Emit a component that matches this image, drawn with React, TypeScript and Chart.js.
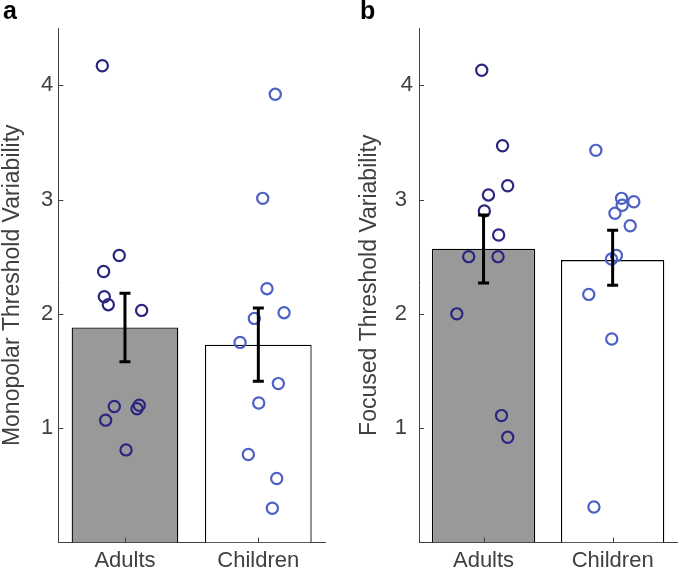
import React, { useEffect, useRef } from 'react';
import { Chart, registerables } from 'chart.js';
Chart.register(...registerables);

const categories = ['Adults', 'Children'];
const yTickValues = [1, 2, 3, 4];

// Panel a: Monopolar
const monoMeans = [1.88, 1.73];
const monoErrLow = [1.58, 1.41];
const monoErrHigh = [2.18, 2.05];
const monoAdults = [4.17, 2.51, 2.37, 2.15, 2.08, 2.03, 1.19, 1.2, 1.17, 1.07, 0.81];
const monoAdultsX = [0.83, 0.957, 0.84, 0.845, 0.875, 1.125, 0.92, 1.107, 1.09, 0.855, 1.008];
const monoChildren = [3.92, 3.01, 2.22, 2.01, 1.96, 1.75, 1.39, 1.22, 0.77, 0.56, 0.3];
const monoChildrenX = [2.127, 2.033, 2.065, 2.193, 1.97, 1.863, 2.15, 2.003, 1.925, 2.138, 2.105];

// Panel b: Focused
const focMeans = [2.57, 2.47];
const focErrLow = [2.27, 2.25];
const focErrHigh = [2.865, 2.73];
const focAdults = [4.13, 3.47, 3.12, 3.04, 2.9, 2.69, 2.5, 2.5, 2.0, 1.11, 0.92];
const focAdultsX = [0.986, 1.147, 1.187, 1.038, 1.006, 1.117, 0.885, 1.112, 0.793, 1.139, 1.187];
const focChildren = [3.43, 3.01, 2.98, 2.95, 2.88, 2.77, 2.51, 2.48, 2.17, 1.78, 0.31];
const focChildrenX = [1.87, 2.069, 2.164, 2.074, 2.018, 2.136, 2.029, 1.991, 1.815, 1.993, 1.855];

const FONT = 'Liberation Sans, Arial, sans-serif';
const TEXT = '#404040';
const AXIS = '#404040';
const ADULT_COLOR = '#2b2680';
const CHILD_COLOR = '#4d60c4';

type PanelProps = {
  width: number;
  height: number;
  axisWidth: number;
  padRight: number;
  titlePad: number;
  tickPad: number;
  padTicks: boolean;
  title: string;
  means: number[];
  errLow: number[];
  errHigh: number[];
  adults: number[];
  adultsX: number[];
  children: number[];
  childrenX: number[];
};

function Panel(p: PanelProps) {
  const ref = useRef<HTMLCanvasElement>(null);
  useEffect(() => {
    if (!ref.current) return;
    const overlay = {
      id: 'overlay',
      afterDatasetsDraw(chart: any) {
        const ctx = chart.ctx;
        const xs = chart.scales.x;
        const ys = chart.scales.y;
        const area = chart.chartArea;
        ctx.save();
        // inner tick marks
        ctx.strokeStyle = AXIS;
        ctx.lineWidth = 1;
        ctx.beginPath();
        yTickValues.forEach((v) => {
          const y = Math.round(ys.getPixelForValue(v)) + 0.5;
          ctx.moveTo(area.left, y);
          ctx.lineTo(area.left + 5, y);
        });
        categories.forEach((_, i) => {
          const x = Math.round(xs.getPixelForValue(i + 1)) + 0.5;
          ctx.moveTo(x, area.bottom);
          ctx.lineTo(x, area.bottom - 5);
        });
        ctx.stroke();
        // error bars
        ctx.strokeStyle = '#000';
        ctx.lineWidth = 3;
        ctx.lineCap = 'butt';
        categories.forEach((_, i) => {
          const x = xs.getPixelForValue(i + 1);
          const yl = ys.getPixelForValue(p.errLow[i]);
          const yh = ys.getPixelForValue(p.errHigh[i]);
          ctx.beginPath();
          ctx.moveTo(x, yl);
          ctx.lineTo(x, yh);
          ctx.moveTo(x - 5.5, yl);
          ctx.lineTo(x + 5.5, yl);
          ctx.moveTo(x - 5.5, yh);
          ctx.lineTo(x + 5.5, yh);
          ctx.stroke();
        });
        ctx.restore();
      },
    };
    const tickFont = { family: FONT, size: 22 };
    const chart = new Chart(ref.current, {
      type: 'bar',
      data: {
        datasets: [
          {
            type: 'scatter',
            data: p.adults.map((v, i) => ({ x: p.adultsX[i], y: v })),
            borderColor: ADULT_COLOR,
            backgroundColor: 'rgba(0,0,0,0)',
            pointRadius: 5.6,
            pointBorderWidth: 2.2,
            borderWidth: 2.2,
            showLine: false,
            order: 1,
          },
          {
            type: 'scatter',
            data: p.children.map((v, i) => ({ x: p.childrenX[i], y: v })),
            borderColor: CHILD_COLOR,
            backgroundColor: 'rgba(0,0,0,0)',
            pointRadius: 5.6,
            pointBorderWidth: 2.2,
            borderWidth: 2.2,
            showLine: false,
            order: 1,
          },
          {
            type: 'bar',
            data: p.means.map((v, i) => ({ x: i + 1, y: v })),
            backgroundColor: ['#999999', '#ffffff'],
            borderColor: '#000000',
            borderWidth: 1.3,
            categoryPercentage: 0.8,
            barPercentage: 1,
            order: 2,
          },
        ],
      } as any,
      options: {
        animation: false,
        responsive: false,
        maintainAspectRatio: false,
        events: [],
        layout: { padding: { top: 28, right: p.padRight, left: 0, bottom: 0 } },
        plugins: { legend: { display: false }, tooltip: { enabled: false } },
        scales: {
          x: {
            type: 'linear',
            min: 0.5,
            max: 2.5,
            offset: false,
            afterBuildTicks: (s: any) => {
              s.ticks = categories.map((_, i) => ({ value: i + 1 }));
            },
            afterFit: (s: any) => {
              s.height = 25.5;
            },
            ticks: {
              callback: (v: any) => categories[Math.round(v) - 1] ?? '',
              font: tickFont,
              color: TEXT,
              padding: 5,
              maxRotation: 0,
              autoSkip: false,
            },
            grid: { display: false, drawTicks: false, offset: false },
            border: { display: true, color: AXIS, width: 1 },
          },
          y: {
            type: 'linear',
            min: 0,
            max: 4.5,
            afterBuildTicks: (s: any) => {
              s.ticks = yTickValues.map((v) => ({ value: v }));
            },
            afterFit: (s: any) => {
              s.width = p.axisWidth;
            },
            ticks: {
              callback: (v: any) => (p.padTicks && v !== 4 ? String(v) + ' ' : String(v)),
              font: tickFont,
              color: TEXT,
              padding: p.tickPad,
            },
            title: {
              display: true,
              text: p.title,
              font: { family: FONT, size: 23, lineHeight: 1 },
              color: TEXT,
              padding: { top: p.titlePad, bottom: 0 },
            },
            grid: { display: false, drawTicks: false },
            border: { display: true, color: AXIS, width: 1 },
          },
        },
      } as any,
      plugins: [overlay],
    });
    return () => chart.destroy();
  }, []);
  return <canvas ref={ref} width={p.width} height={p.height} style={{ display: 'block', width: p.width, height: p.height }} />;
}

const letterStyle: React.CSSProperties = {
  position: 'absolute',
  top: -2,
  font: `bold 25px ${FONT}`,
  lineHeight: '25px',
  color: '#000',
};

export default function App() {
  return (
    <div style={{ position: 'fixed', left: 0, top: 0, width: 685, height: 568, background: '#fff', overflow: 'hidden' }}>
      <div style={{ position: 'absolute', left: 0, top: 0 }}>
        <Panel
          width={342}
          height={568}
          axisWidth={58.3}
          padRight={17}
          titlePad={1.5}
          tickPad={5}
          padTicks={false}
          title="Monopolar Threshold Variability"
          means={monoMeans}
          errLow={monoErrLow}
          errHigh={monoErrHigh}
          adults={monoAdults}
          adultsX={monoAdultsX}
          children={monoChildren}
          childrenX={monoChildrenX}
        />
      </div>
      <div style={{ position: 'absolute', left: 342, top: 0 }}>
        <Panel
          width={343}
          height={568}
          axisWidth={77}
          padRight={0.5}
          titlePad={16}
          tickPad={6}
          padTicks={true}
          title="Focused Threshold Variability"
          means={focMeans}
          errLow={focErrLow}
          errHigh={focErrHigh}
          adults={focAdults}
          adultsX={focAdultsX}
          children={focChildren}
          childrenX={focChildrenX}
        />
      </div>
      <div style={{ ...letterStyle, left: 3 }}>a</div>
      <div style={{ ...letterStyle, left: 360 }}>b</div>
    </div>
  );
}
